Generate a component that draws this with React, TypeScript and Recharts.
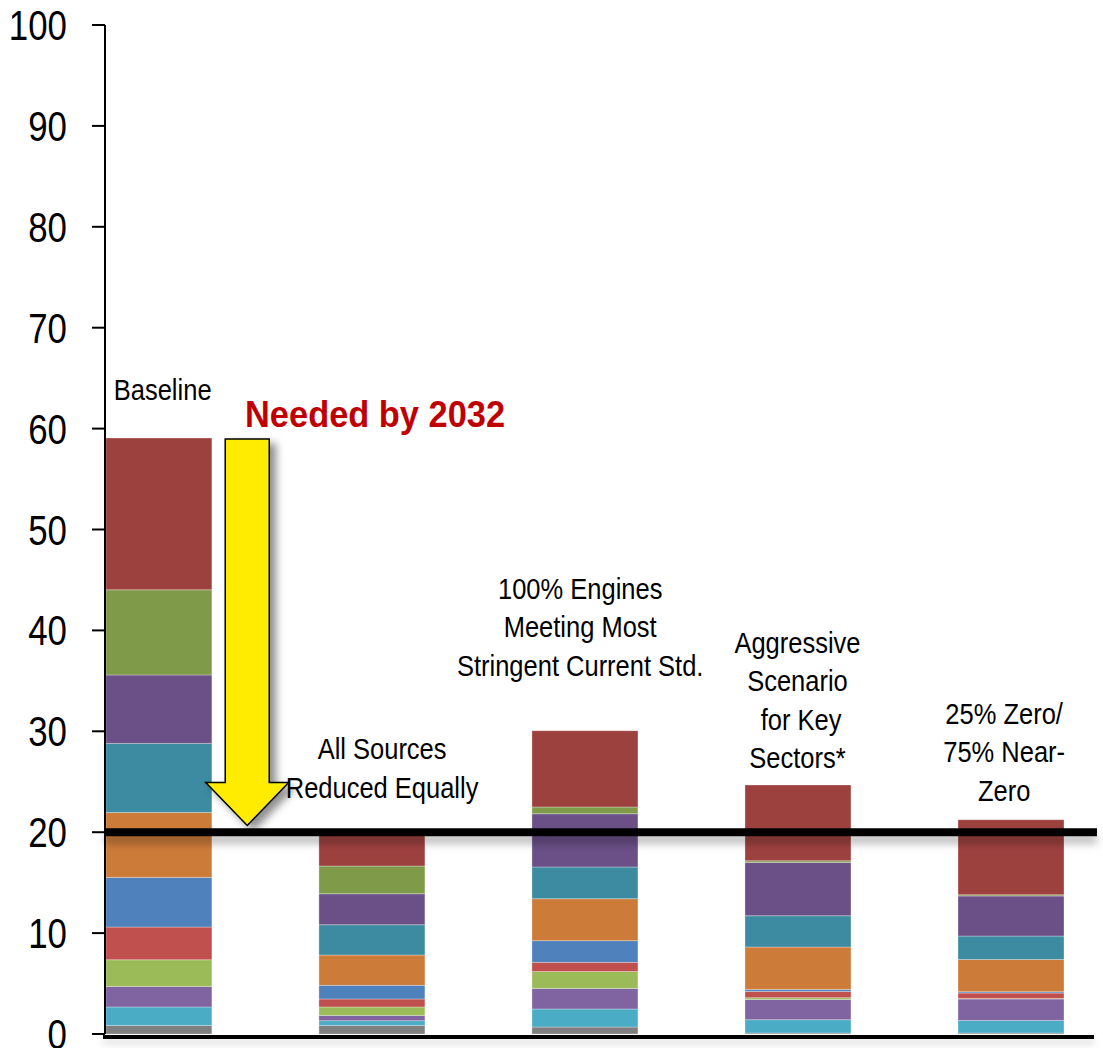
// Stacked emissions scenarios vs. the 2032 target line.
// Eleven stacked source segments per scenario, annotations drawn through the chart scales.

import React from 'react'
import { BarChart, Bar, XAxis, YAxis, ReferenceLine, ReferenceDot } from 'recharts'

const SCENARIO_LINES: string[][] = [
  ['Baseline'],
  ['All Sources', 'Reduced Equally'],
  ['100% Engines', 'Meeting Most', 'Stringent Current Std.'],
  ['Aggressive', 'Scenario', ' for Key', 'Sectors*'],
  ['25% Zero/', '75% Near-', 'Zero'],
]

const Y_TICKS = [0, 10, 20, 30, 40, 50, 60, 70, 80, 90, 100]
const TARGET = 20

// segment values, bottom to top
const GRAY = [0.85, 0.85, 0.69, 0.1, 0.1]
const CYAN = [1.83, 0.47, 1.79, 1.32, 1.25]
const PURPLE = [2.04, 0.52, 2.04, 2.01, 2.12]
const LIGHT_GREEN = [2.64, 0.84, 1.68, 0.17, 0.05]
const RED = [3.24, 0.79, 0.9, 0.62, 0.54]
const BLUE = [4.92, 1.35, 2.15, 0.2, 0.13]
const ORANGE = [6.44, 3.01, 4.16, 4.2, 3.2]
const TEAL = [6.84, 3.0, 3.14, 3.1, 2.32]
const DARK_PURPLE = [6.78, 3.07, 5.28, 5.28, 3.97]
const GREEN = [8.45, 2.75, 0.67, 0.17, 0.12]
const DARK_RED = [15.04, 3.15, 7.56, 7.51, 7.44]

const SERIES = [
  { key: 'gray', values: GRAY, color: '#7f7f7f' },
  { key: 'cyan', values: CYAN, color: '#4aacc5' },
  { key: 'purple', values: PURPLE, color: '#8064a2' },
  { key: 'lightGreen', values: LIGHT_GREEN, color: '#9bbb59' },
  { key: 'red', values: RED, color: '#c0504d' },
  { key: 'blue', values: BLUE, color: '#4f81bd' },
  { key: 'orange', values: ORANGE, color: '#cc7b39' },
  { key: 'teal', values: TEAL, color: '#3c8ba1' },
  { key: 'darkPurple', values: DARK_PURPLE, color: '#6a5087' },
  { key: 'green', values: GREEN, color: '#7f9b4a' },
  { key: 'darkRed', values: DARK_RED, color: '#9d413f' },
]

// annotation anchors (data units): baseline of last label line
const LABEL_Y = [62.86, 23.4, 35.5, 26.36, 23.12]
const LABEL_DX = [0.02, 0.05, -0.02, 0, -0.03]

const data = SCENARIO_LINES.map((lines, i) => {
  const row: Record<string, number | string> = { x: i, name: lines.join(' ') }
  SERIES.forEach((s) => {
    row[s.key] = s.values[i]
  })
  return row
})

const FONT = '"Liberation Sans", Arial, sans-serif'
const SQUEEZE = 0.85

function YTick(props: any) {
  const { x, y, payload } = props
  return (
    <text
      transform={`translate(${x},${y + 15}) scale(0.83,1)`}
      textAnchor="end"
      fontSize={42}
      fontFamily={FONT}
      fill="#000"
    >
      {payload.value}
    </text>
  )
}

function LabelBlock({ cx, cy, lines }: { cx: number; cy: number; lines: string[] }) {
  const lh = 38.5
  return (
    <g>
      {lines.map((l, k) => (
        <text
          key={k}
          transform={`translate(${cx},${cy - (lines.length - 1 - k) * lh}) scale(${SQUEEZE},1)`}
          textAnchor="middle"
          fontSize={30}
          fontFamily={FONT}
          fill="#000"
          style={{ whiteSpace: 'pre' }}
        >
          {l}
        </text>
      ))}
    </g>
  )
}

function Arrow(props: any) {
  const { x1, y1, y2 } = props
  const x = x1
  const sw = 22
  const hw = 41.5
  const hl = 43
  const pts = [
    [x - sw, y1],
    [x + sw, y1],
    [x + sw, y2 - hl],
    [x + hw, y2 - hl],
    [x, y2],
    [x - hw, y2 - hl],
    [x - sw, y2 - hl],
  ]
    .map((p) => p.join(','))
    .join(' ')
  return (
    <polygon points={pts} fill="#ffec00" stroke="#000" strokeWidth={1.5} filter="url(#arrowShadow)" />
  )
}

function TargetLine(props: any) {
  const { x1, y1, x2, y2 } = props
  return <line x1={x1} y1={y1} x2={x2} y2={y2} stroke="#000" strokeWidth={8} filter="url(#lineShadow)" />
}

// bottom baseline sits just under the bars, a little short of the plot edge
function FloorLine(props: any) {
  const { x1, y1, x2 } = props
  return (
    <line x1={x1 - 2} y1={y1 + 3} x2={x2 - 3} y2={y1 + 3} stroke="#000" strokeWidth={4} filter="url(#floorShadow)" />
  )
}

export default function App() {
  return (
    <div style={{ position: 'absolute', left: 0, top: 0, background: '#fff' }}>
      <svg width={0} height={0} style={{ position: 'absolute' }}>
        <defs>
          <filter id="lineShadow" filterUnits="userSpaceOnUse" x={0} y={0} width={1103} height={1048}>
            <feDropShadow dx={0} dy={7} stdDeviation={4} floodColor="#000" floodOpacity={0.3} />
          </filter>
          <filter id="floorShadow" filterUnits="userSpaceOnUse" x={0} y={0} width={1103} height={1048}>
            <feDropShadow dx={0} dy={5} stdDeviation={3} floodColor="#000" floodOpacity={0.15} />
          </filter>
          <filter id="arrowShadow" filterUnits="userSpaceOnUse" x={0} y={0} width={1103} height={1048}>
            <feDropShadow dx={6} dy={5} stdDeviation={4} floodColor="#000" floodOpacity={0.45} />
          </filter>
        </defs>
      </svg>
      <BarChart
        width={1103}
        height={1048}
        data={data}
        margin={{ top: 25, right: 6, left: 0, bottom: 14 }}
      >
        <XAxis
          dataKey="x"
          type="number"
          domain={[-0.2507, 4.406]}
          height={0}
          tick={false}
          tickLine={false}
          axisLine={false}
          allowDataOverflow
        />
        <YAxis
          type="number"
          domain={[0, 100]}
          ticks={Y_TICKS}
          width={105}
          tickSize={13}
          tickMargin={25}
          tick={<YTick />}
          tickLine={{ stroke: '#000', strokeWidth: 2 }}
          axisLine={{ stroke: '#000', strokeWidth: 2 }}
          interval={0}
        />
        {SERIES.map((s) => (
          <Bar
            key={s.key}
            dataKey={s.key}
            stackId="a"
            fill={s.color}
            stroke="rgba(255,255,255,0.3)"
            strokeWidth={1}
            barSize={106}
            isAnimationActive={false}
          />
        ))}
        <ReferenceLine y={0} shape={<FloorLine />} />
        <ReferenceLine y={TARGET} shape={<TargetLine />} />
        <ReferenceLine
          segment={[
            { x: 0.417, y: 58.97 },
            { x: 0.417, y: 20.67 },
          ]}
          shape={<Arrow />}
        />
        <ReferenceDot
          x={1.017}
          y={60.2}
          r={0}
          shape={(p: any) => (
            <text
              transform={`translate(${p.cx},${p.cy}) scale(0.93,1)`}
              textAnchor="middle"
              fontSize={37}
              fontWeight="bold"
              fontFamily={FONT}
              fill="#c00000"
            >
              Needed by 2032
            </text>
          )}
        />
        {SCENARIO_LINES.map((lines, i) => (
          <ReferenceDot
            key={i}
            x={i + LABEL_DX[i]}
            y={LABEL_Y[i]}
            r={0}
            shape={(p: any) => <LabelBlock cx={p.cx} cy={p.cy} lines={lines} />}
          />
        ))}
      </BarChart>
    </div>
  )
}
